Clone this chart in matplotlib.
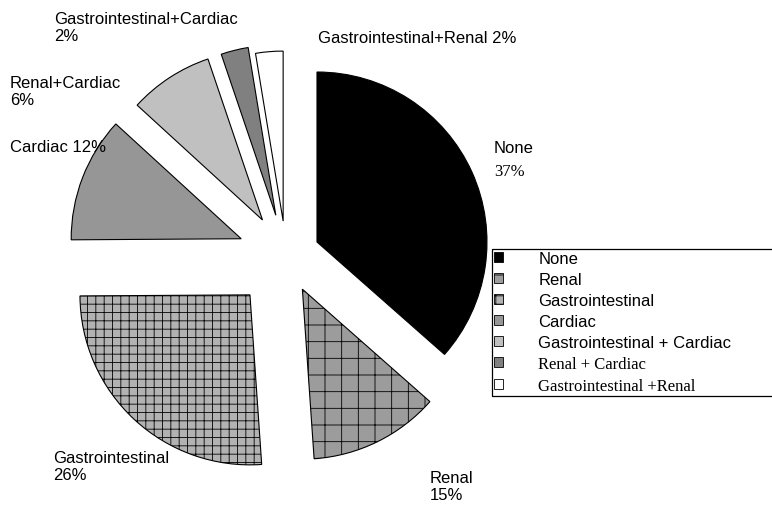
import matplotlib.pyplot as plt
from matplotlib.patches import Patch
from matplotlib.lines import Line2D

plt.rcParams['font.family'] = ['Liberation Sans', 'DejaVu Sans']
plt.rcParams['hatch.linewidth'] = 0.6

# slice sizes (labels carry the printed %)
sizes = [36.5, 12.4, 26.0, 11.9, 8.0, 2.6, 2.6]
explode = [34, 37, 53, 48, 43, 42, 35]
colors = ['black', '#9c9c9c', '#b2b2b2', '#969696', '#c0c0c0', '#808080', 'white']
hatches = ['', '+', '++', '', '', '', '']

slice_labels = ["None", "Renal\n15%", "Gastrointestinal\n26%", "Cardiac 12%",
                "Renal+Cardiac\n6%", "Gastrointestinal+Cardiac\n2%",
                "Gastrointestinal+Renal 2%"]
label_pos = [(494, 141), (430, 471), (53, 451), (10, 140),
             (10, 76), (54, 12), (318, 31)]

legend_labels = ["None", "Renal", "Gastrointestinal", "Cardiac",
                 "Gastrointestinal + Cardiac", "Renal + Cardiac",
                 "Gastrointestinal +Renal"]
legend_serif = [False, False, False, False, False, True, True]

W, H = 772, 510
fig = plt.figure(figsize=(W / 100, H / 100), dpi=100)
ax = fig.add_axes([0, 0, 1, 1])

wedges, _ = ax.pie(sizes, explode=explode, colors=colors, radius=170,
                   center=(286, H - 257), startangle=90, counterclock=False,
                   wedgeprops=dict(edgecolor='black', linewidth=0.8), frame=True)
for w, h in zip(wedges, hatches):
    w.set_hatch(h)

ax.set_xlim(0, W)
ax.set_ylim(0, H)
ax.set_aspect('equal')
ax.axis('off')

for txt, (x, y) in zip(slice_labels, label_pos):
    ax.text(x, H - y, txt, fontsize=12, ha='left', va='top', zorder=5)
ax.text(494, H - 164, "37%", fontsize=12, ha='left', va='top',
        family='Liberation Serif', zorder=5)

handles = [Patch(facecolor=c, edgecolor='black', hatch=h, linewidth=0.6)
           for c, h in zip(colors, hatches)]
leg = fig.legend(handles, legend_labels, loc='upper left',
                 bbox_to_anchor=(492 / W, 1 - 250 / H, 0.7, 0), mode='expand',
                 borderaxespad=0, fontsize=12, frameon=True, fancybox=False,
                 framealpha=1, edgecolor='none', borderpad=0.12,
                 labelspacing=0.36, handlelength=0.55, handleheight=0.55,
                 handletextpad=2.1)
for t, serif in zip(leg.get_texts(), legend_serif):
    if serif:
        t.set_family('Liberation Serif')

# legend box runs off the right edge: draw only left, top and bottom sides
fig.canvas.draw()
bb = leg.get_window_extent().transformed(fig.transFigure.inverted())
fig.add_artist(Line2D([1.0, bb.x0, bb.x0, 1.0], [bb.y1, bb.y1, bb.y0, bb.y0],
                      transform=fig.transFigure, color='black', lw=0.9,
                      zorder=10))

fig.savefig('out.png', dpi=100)
